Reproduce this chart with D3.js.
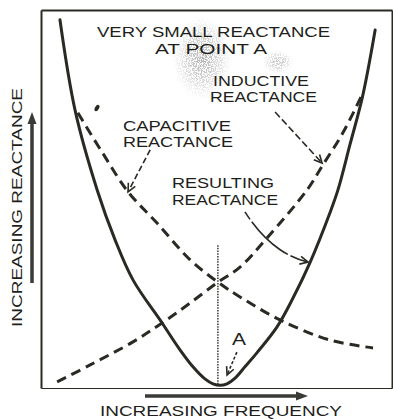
<!DOCTYPE html>
<html>
<head>
<meta charset="utf-8">
<script src="https://cdn.jsdelivr.net/npm/d3@7"></script>
<style>
  html, body { margin: 0; padding: 0; background: #fff; }
  svg { display: block; }
  text { font-family: "Liberation Sans", "DejaVu Sans", sans-serif; fill: #1e1e1a; }
</style>
</head>
<body>
<svg id="chart" width="393" height="419"></svg>
<script>
// Reactance vs. frequency of a series resonant circuit (arbitrary units, 0–10)

// Resulting (net) reactance – solid curve
const resultingFreq  = [0.54, 0.97, 1.60, 2.11, 2.62, 3.45, 3.96, 4.33, 4.67, 4.90, 5.10, 5.30, 5.53, 5.81, 6.15, 6.72, 7.18, 7.66, 8.23, 8.46, 8.80, 9.17, 9.52];
const resultingReact = [9.74, 7.35, 5.24, 3.92, 2.86, 1.72, 1.01, 0.56, 0.24, 0.11, 0.07, 0.11, 0.26, 0.56, 0.93, 1.61, 2.38, 3.31, 4.63, 5.24, 6.43, 7.75, 9.47];

// Capacitive reactance – falls with frequency
const capacitiveFreq  = [1.05, 1.74, 2.48, 3.30, 4.25, 5.04, 5.67, 6.81, 8.23, 9.46];
const capacitiveReact = [7.28, 6.24, 5.19, 4.37, 3.39, 2.80, 2.41, 1.80, 1.27, 1.06];

// Inductive reactance – rises with frequency
const inductiveFreq  = [0.46, 1.40, 2.62, 3.45, 4.25, 5.04, 5.67, 6.44, 7.58, 8.03, 8.60, 9.17];
const inductiveReact = [0.16, 0.61, 1.22, 1.72, 2.25, 2.80, 3.20, 3.97, 5.24, 5.90, 6.75, 7.80];

// Resonant point A (where the two reactances are equal)
const pointA = { freq: 5.04, crossing: 2.80 };

const svg = d3.select("#chart");
const ink = "#2a2a24";

const x = d3.scaleLinear().domain([0, 10]).range([41, 392]);
const y = d3.scaleLinear().domain([0, 10]).range([388, 10]);

// Speckled grey haze behind the heading
const defs = svg.append("defs");
const grad = defs.append("radialGradient").attr("id", "haze");
grad.append("stop").attr("offset", "0%").attr("stop-color", "#8a8a8a").attr("stop-opacity", 0.7);
grad.append("stop").attr("offset", "55%").attr("stop-color", "#9a9a9a").attr("stop-opacity", 0.4);
grad.append("stop").attr("offset", "100%").attr("stop-color", "#bbb").attr("stop-opacity", 0);
const speck = defs.append("filter").attr("id", "speck").attr("x", "-20%").attr("y", "-20%").attr("width", "140%").attr("height", "140%");
speck.append("feTurbulence").attr("type", "fractalNoise").attr("baseFrequency", 0.8).attr("numOctaves", 1).attr("seed", 4).attr("result", "noise");
speck.append("feColorMatrix").attr("in", "noise").attr("type", "matrix")
  .attr("values", "0 0 0 0 0  0 0 0 0 0  0 0 0 0 0  0 0 0 -9 5").attr("result", "mask");
speck.append("feComposite").attr("in", "SourceGraphic").attr("in2", "mask").attr("operator", "in");

svg.append("ellipse").attr("cx", 202).attr("cy", 58).attr("rx", 30).attr("ry", 42)
  .attr("fill", "url(#haze)").attr("filter", "url(#speck)");
svg.append("ellipse").attr("cx", 278).attr("cy", 62).attr("rx", 16).attr("ry", 12)
  .attr("fill", "url(#haze)").attr("filter", "url(#speck)").attr("opacity", 0.8);

// Frame built from axes without ticks
const frame = svg.append("g");
frame.append("g").attr("transform", `translate(0,${y(0)})`).call(d3.axisBottom(x).tickValues([]).tickSizeOuter(0));
frame.append("g").attr("transform", `translate(0,${y(10)})`).call(d3.axisTop(x).tickValues([]).tickSizeOuter(0));
frame.append("g").attr("transform", `translate(${x(0)},0)`).call(d3.axisLeft(y).tickValues([]).tickSizeOuter(0));
frame.append("g").attr("transform", `translate(${x(10)},0)`).call(d3.axisRight(y).tickValues([]).tickSizeOuter(0));
frame.selectAll(".domain").attr("stroke", ink).attr("stroke-width", 2);
frame.select("g:nth-child(4) .domain").attr("stroke-width", 1.2);

const line = d3.line()
  .x(d => x(d[0]))
  .y(d => y(d[1]))
  .curve(d3.curveCatmullRom.alpha(0.5));

const zip = (a, b) => a.map((v, i) => [v, b[i]]);

// Vertical dotted marker through the resonant frequency
svg.append("line")
  .attr("x1", x(pointA.freq)).attr("x2", x(pointA.freq))
  .attr("y1", y(pointA.crossing) - 37).attr("y2", y(0) - 3)
  .attr("stroke", ink).attr("stroke-width", 1.4).attr("stroke-dasharray", "1.5,1.2");

svg.append("path").datum(zip(capacitiveFreq, capacitiveReact))
  .attr("d", line).attr("fill", "none").attr("stroke", ink)
  .attr("stroke-width", 3).attr("stroke-dasharray", "10,6");

svg.append("path").datum(zip(inductiveFreq, inductiveReact))
  .attr("d", line).attr("fill", "none").attr("stroke", ink)
  .attr("stroke-width", 3).attr("stroke-dasharray", "10,6");

svg.append("path").datum(zip(resultingFreq, resultingReact))
  .attr("d", line).attr("fill", "none").attr("stroke", ink)
  .attr("stroke-width", 3).attr("stroke-linecap", "round");

// Pointer arrows with open V heads
function vHead(tip, from) {
  const a = Math.atan2(tip[1] - from[1], tip[0] - from[0]);
  const L = 9, s = 0.45;
  const p1 = [tip[0] - L * Math.cos(a - s), tip[1] - L * Math.sin(a - s)];
  const p2 = [tip[0] - L * Math.cos(a + s), tip[1] - L * Math.sin(a + s)];
  svg.append("path").attr("d", `M${p1}L${tip}L${p2}`)
    .attr("fill", "none").attr("stroke", ink).attr("stroke-width", 1.6);
}
function pointer(pts, dash) {
  const p = pts.map(d => [x(d[0]), y(d[1])]);
  const path = p.length === 3 ? `M${p[0]}Q${p[1]} ${p[2]}` : `M${p[0]}L${p[1]}`;
  svg.append("path").attr("d", path).attr("fill", "none").attr("stroke", ink)
    .attr("stroke-width", 1.6).attr("stroke-dasharray", dash);
  vHead(p[p.length - 1], p[p.length - 2]);
}
pointer([[3.11, 6.30], [2.48, 5.19]], "6,3");
pointer([[6.67, 7.30], [8.01, 5.95]], "7,3");
pointer([[5.81, 4.66], [6.58, 3.55], [7.61, 3.33]], "9,3,40,0");
pointer([[5.58, 0.95], [5.30, 0.34]], "3,2");

// Small ink blot
svg.append("ellipse").attr("cx", 97).attr("cy", 108).attr("rx", 2).attr("ry", 3.5)
  .attr("transform", "rotate(30 97 108)").attr("fill", ink);

// Labels
function label(t, x0, x1, base, size) {
  svg.append("text").attr("x", x0).attr("y", base).attr("font-size", size)
    .attr("textLength", x1 - x0).attr("lengthAdjust", "spacingAndGlyphs").text(t);
}
label("VERY SMALL REACTANCE", 97, 330, 37, 14.5);
label("AT POINT A", 155, 267, 54, 14.5);
label("INDUCTIVE", 213, 309, 86, 14.5);
label("REACTANCE", 210, 317, 102, 14.5);
label("CAPACITIVE", 123, 231, 131, 14.5);
label("REACTANCE", 123, 233, 147, 14.5);
label("RESULTING", 172, 274, 188, 14.5);
label("REACTANCE", 172, 278, 205, 14.5);
label("A", 232, 246, 345, 17);

label("INCREASING FREQUENCY", 100, 342, 416, 15);
svg.append("text")
  .attr("transform", "translate(22,327) rotate(-90)")
  .attr("font-size", 14.5)
  .attr("textLength", 239).attr("lengthAdjust", "spacingAndGlyphs")
  .text("INCREASING REACTANCE");

// Direction arrows beside the axes
const axisInk = "#3a3a36";
svg.append("line").attr("x1", 32).attr("x2", 32).attr("y1", 283).attr("y2", 122)
  .attr("stroke", axisInk).attr("stroke-width", 3.5);
svg.append("path").attr("d", "M32,112L27.5,124L36.5,124Z").attr("fill", axisInk);
svg.append("line").attr("x1", 145).attr("x2", 298).attr("y1", 396).attr("y2", 396)
  .attr("stroke", axisInk).attr("stroke-width", 3.5);
svg.append("path").attr("d", "M308,396L296,391.5L296,400.5Z").attr("fill", axisInk);
</script>
</body>
</html>
